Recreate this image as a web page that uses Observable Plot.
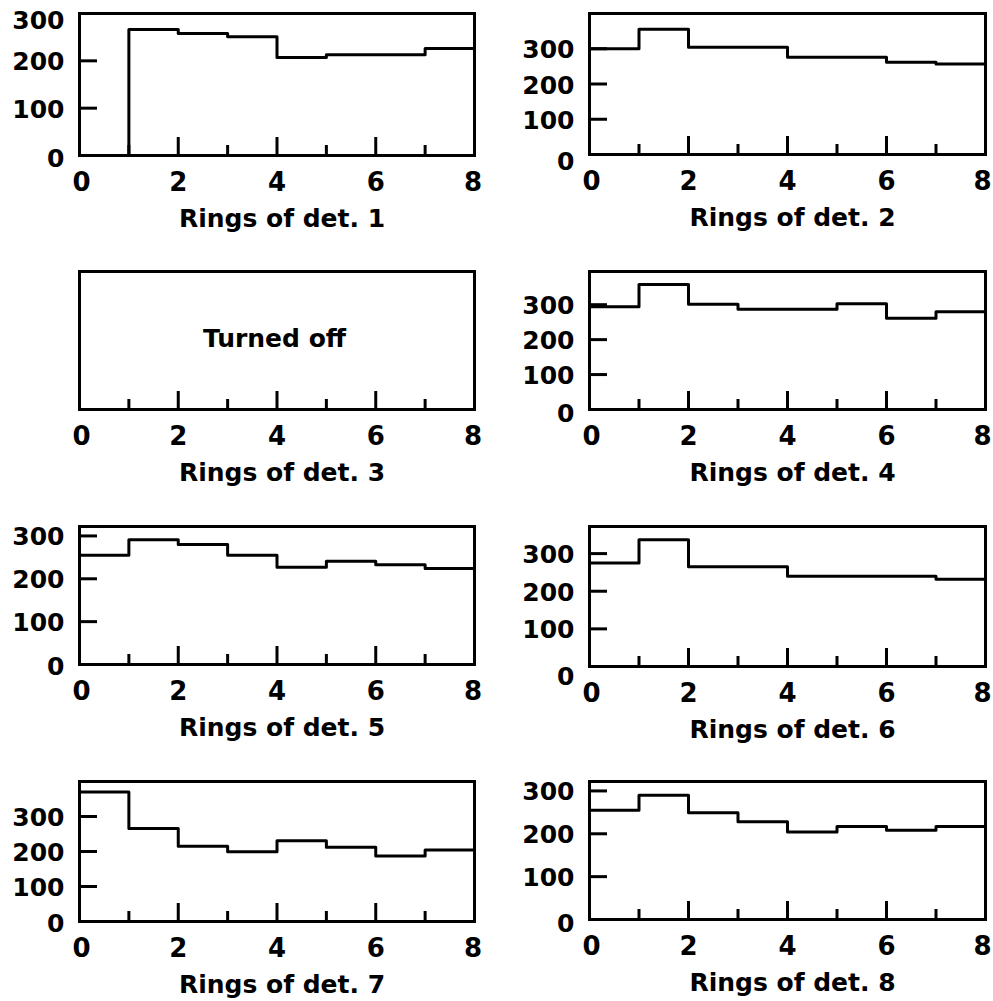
<!DOCTYPE html>
<html><head><meta charset="utf-8">
<script src="https://cdn.jsdelivr.net/npm/d3@7"></script>
<script src="https://cdn.jsdelivr.net/npm/@observablehq/plot@0.6"></script>
<style>
html,body{margin:0;padding:0;background:#fff;}
#root{position:relative;width:993px;height:1001px;overflow:hidden;background:#fff;}
#root > div{position:absolute;}
</style></head><body><div id="root"></div>
<script>
// ---- data ----
const ringEdges = [0, 1, 2, 3, 4, 5, 6, 7, 8];
const det1 = [0, 266, 258, 251, 207, 213, 213, 226];
const det2 = [300, 355, 304, 304, 276, 276, 262, 257];
const det3 = null; // turned off
const det4 = [294, 358, 301, 287, 287, 303, 261, 280];
const det5 = [255, 291, 280, 255, 227, 241, 233, 224];
const det6 = [275, 337, 265, 265, 240, 240, 240, 232];
const det7 = [370, 266, 215, 199, 231, 212, 187, 204];
const det8 = [255, 290, 249, 228, 204, 217, 208, 217];
const detectors = [det1, det2, det3, det4, det5, det6, det7, det8];
const detNames = ["1", "2", "3", "4", "5", "6", "7", "8"];
const yTop = [300, 400, 400, 395, 322, 372, 400, 322];
const xTickFirst = [0];
const xTickMiddle = [2, 4, 6];
const xTickLast = [8];
const xMajorTicks = [2, 4, 6];
const xMinorTicks = [1, 3, 5, 7];
const yTickLabels = [0, 100, 200, 300];
const offText = "Turned off";

// ---- layout ----
const W = 496, H = 250;
const layout = [
  {left: 0,   top: 0,   ml: 79, mr: 22, mt: 13, mb: 95, zeroDy: 3.6, topDy: 7,   lastDx: -1.5},
  {left: 497, top: 0,   ml: 92, mr: 8,  mt: 13, mb: 96, zeroDy: 7.6, topDy: 1.5, lastDx: -3},
  {left: 0,   top: 250, ml: 79, mr: 22, mt: 21, mb: 91, zeroDy: 0,   topDy: 0,   lastDx: -1.5},
  {left: 497, top: 250, ml: 92, mr: 8,  mt: 21, mb: 91, zeroDy: 4.5, topDy: 1.5, lastDx: -3},
  {left: 0,   top: 500, ml: 79, mr: 22, mt: 26, mb: 86, zeroDy: 2.6, topDy: 1.5, lastDx: -1.5},
  {left: 497, top: 500, ml: 92, mr: 8,  mt: 26, mb: 84, zeroDy: 10.6, topDy: 1.5, lastDx: -3},
  {left: 0,   top: 750, ml: 79, mr: 22, mt: 31, mb: 79, zeroDy: 2.7, topDy: 1.5, lastDx: -1.5},
  {left: 497, top: 750, ml: 92, mr: 8,  mt: 31, mb: 81, zeroDy: 4.1, topDy: 1.5, lastDx: -3}
];

const FONT = "'DejaVu Sans', 'Liberation Sans', sans-serif";
const root = document.getElementById("root");

detectors.forEach((vals, i) => {
  const L = layout[i];
  const pw = W - L.ml - L.mr;
  const ph = H - L.mt - L.mb;
  const xAxisOpts = {tickSize: 0, tickPadding: 17, label: null, fontSize: 26, fontWeight: "bold", fontFamily: FONT};
  const yAxisOpts = {tickSize: 0, tickPadding: 15, label: null, fontSize: 25, fontWeight: "bold", fontFamily: FONT};
  const marks = [];
  marks.push(Plot.frame({stroke: "black", strokeWidth: 3}));
  marks.push(Plot.ruleX(xMajorTicks, {x: d => d, insetTop: ph - 18, stroke: "black", strokeWidth: 3}));
  marks.push(Plot.ruleX(xMinorTicks, {x: d => d, insetTop: ph - 10, stroke: "black", strokeWidth: 3}));
  marks.push(Plot.axisX(xTickFirst, {...xAxisOpts, dx: 2}));
  marks.push(Plot.axisX(xTickMiddle, xAxisOpts));
  marks.push(Plot.axisX(xTickLast, {...xAxisOpts, dx: L.lastDx}));
  marks.push(Plot.text([`Rings of det. ${detNames[i]}`], {text: d => d, frameAnchor: "bottom", lineAnchor: "bottom", dy: 71, dx: 5, fontSize: 25, fontWeight: "bold", fontFamily: FONT, fill: "black"}));
  if (vals) {
    const inner = yTickLabels.filter(v => v > 0 && v < yTop[i]);
    marks.push(Plot.ruleY(inner, {y: d => d, insetRight: pw - 18, stroke: "black", strokeWidth: 3}));
    const pts = ringEdges.map(x => ({x, y: vals[Math.min(x, vals.length - 1)]}));
    marks.push(Plot.line(pts, {x: "x", y: "y", curve: "step-after", stroke: "black", strokeWidth: 3}));
    marks.push(Plot.axisY(yTickLabels.filter(v => v > 0 && v < 300), {...yAxisOpts, dy: 1.5}));
    marks.push(Plot.axisY([300], {...yAxisOpts, dy: L.topDy}));
    marks.push(Plot.axisY([0], {...yAxisOpts, dy: L.zeroDy}));
  } else {
    marks.push(Plot.text([offText], {text: d => d, frameAnchor: "middle", dy: -2, dx: -2.5, fontSize: 25, fontWeight: "bold", fontFamily: FONT, fill: "black"}));
  }
  const chart = Plot.plot({
    width: W, height: H,
    marginLeft: L.ml, marginRight: L.mr, marginTop: L.mt, marginBottom: L.mb,
    x: {domain: [0, 8]},
    y: vals ? {domain: [0, yTop[i]]} : {domain: [0, 1], axis: null},
    style: {fontFamily: FONT, fontSize: "25px", fontWeight: "bold", background: "transparent", color: "black", overflow: "visible"},
    marks
  });
  const wrap = document.createElement("div");
  wrap.style.left = L.left + "px";
  wrap.style.top = L.top + "px";
  wrap.appendChild(chart);
  root.appendChild(wrap);
});
</script>
</body></html>
